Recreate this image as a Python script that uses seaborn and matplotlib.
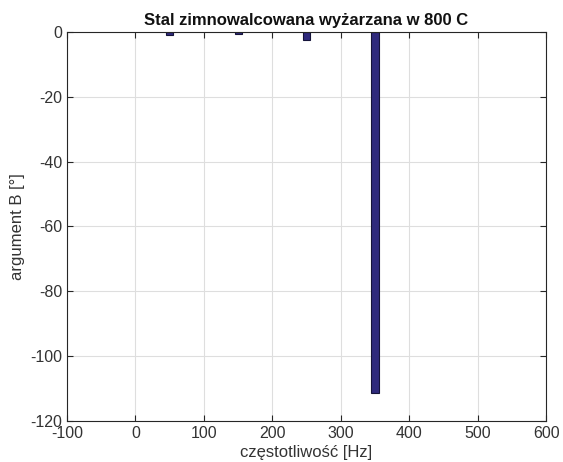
import matplotlib
matplotlib.use("Agg")
import matplotlib.pyplot as plt
import seaborn as sns
import pandas as pd

freqs = [50, 150, 250, 350]
values = [-1.0, -0.6, -2.5, -111.5]
xticks = [-100, 0, 100, 200, 300, 400, 500, 600]
yticks = [-120, -100, -80, -60, -40, -20, 0]

sns.set_style("whitegrid")
plt.rcParams['font.family'] = ['Liberation Sans', 'DejaVu Sans']

df = pd.DataFrame({"f": freqs, "v": values})

fig = plt.figure(figsize=(5.63, 4.62), dpi=100)
ax = fig.add_axes([0.119, 0.089, 0.851, 0.842])
sns.barplot(data=df, x="f", y="v", native_scale=True, width=0.105,
            color="#2f2a7c", saturation=1, edgecolor="#15143a", linewidth=0.8, ax=ax)

ax.set_xlim(-100, 600)
ax.set_ylim(-120, 0)
ax.set_xticks(xticks)
ax.set_yticks(yticks)
ax.set_xticklabels([str(t) for t in xticks])
ax.set_yticklabels([str(t) for t in yticks])
ax.grid(True, color="#dedede", linewidth=0.8)
ax.set_axisbelow(True)
for s in ax.spines.values():
    s.set_color("#262626")
    s.set_linewidth(0.8)
    s.set_visible(True)
ax.tick_params(direction="in", length=4, color="#262626", labelsize=11.5,
               labelcolor="#333333", top=True, right=True, bottom=True, left=True)
ax.set_xlabel("częstotliwość [Hz]", fontsize=12, color="#333333", labelpad=3)
ax.set_ylabel("argument B [°]", fontsize=12, color="#333333")
ax.set_title("Stal zimnowalcowana wyżarzana w 800 C", fontsize=12, fontweight="bold",
             color="#111111", pad=5)

fig.savefig("out.png", dpi=100)
